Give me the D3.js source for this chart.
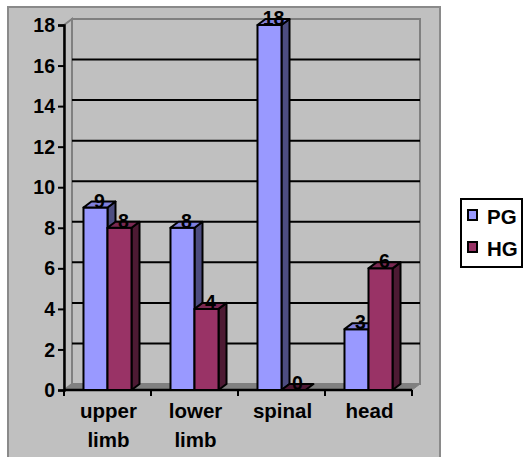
<!DOCTYPE html>
<html>
<head>
<meta charset="utf-8">
<script src="https://cdn.jsdelivr.net/npm/d3@7"></script>
<style>
  html, body { margin: 0; padding: 0; background: #ffffff; }
  svg { display: block; }
  text { font-family: "Liberation Sans", Arial, sans-serif; font-weight: bold; fill: #000; }
</style>
</head>
<body>
<svg id="chart" width="525" height="457"></svg>
<script>
// Injury sites and counts per group
const categories = [["upper", "limb"], ["lower", "limb"], ["spinal"], ["head"]];
const seriesNames = ["PG", "HG"];
const pgValues = [9, 8, 18, 3];
const hgValues = [8, 4, 0, 6];
const yTicks = [0, 2, 4, 6, 8, 10, 12, 14, 16, 18];

const palette = {
  PG: { front: "#9999FF", top: "#8080DD", side: "#4D4D80" },
  HG: { front: "#993366", top: "#7A2952", side: "#4D1A33" }
};

const svg = d3.select("#chart");

// Frame of the plotting region and the 3-D depth offset
const plotLeft = 64, plotRight = 412, plotBottom = 390, plotTop = 25;
const dx = 8, dy = -6;

const y = d3.scaleLinear().domain([0, 18]).range([plotBottom, plotTop]);
const x0 = d3.scaleBand().domain(d3.range(categories.length)).range([plotLeft, plotRight]).padding(0);
const groupW = x0.bandwidth() * 0.552;
const x1 = d3.scaleBand().domain(seriesNames)
  .range([(x0.bandwidth() - groupW) / 2, (x0.bandwidth() + groupW) / 2]).padding(0);

// Plot area background
svg.append("rect")
  .attr("x", 8).attr("y", 7).attr("width", 432).attr("height", 470)
  .attr("fill", "#C0C0C0").attr("stroke", "#8a8a8a").attr("stroke-width", 2);

// Side wall
svg.append("path")
  .attr("d", `M${plotLeft},${plotBottom}L${plotLeft},${plotTop}L${plotLeft + dx},${plotTop + dy}L${plotLeft + dx},${plotBottom + dy}Z`)
  .attr("fill", "#C0C0C0").attr("stroke", "#808080").attr("stroke-width", 2);

// Back wall
svg.append("rect")
  .attr("x", plotLeft + dx).attr("y", plotTop + dy)
  .attr("width", plotRight - plotLeft).attr("height", plotBottom - plotTop)
  .attr("fill", "#C0C0C0").attr("stroke", "#808080").attr("stroke-width", 2);

// Floor
svg.append("path")
  .attr("d", `M${plotLeft},${plotBottom}L${plotRight},${plotBottom}L${plotRight + dx},${plotBottom + dy}L${plotLeft + dx},${plotBottom + dy}Z`)
  .attr("fill", "#808080").attr("stroke", "#808080").attr("stroke-width", 1);

// Gridlines on the back wall
svg.append("g").selectAll("line")
  .data(yTicks.filter(t => t > 0 && t < 18))
  .join("line")
  .attr("x1", plotLeft + dx).attr("x2", plotRight + dx)
  .attr("y1", d => y(d) + dy).attr("y2", d => y(d) + dy)
  .attr("stroke", "#000").attr("stroke-width", 2);

// Y axis
const yAxis = svg.append("g")
  .attr("transform", `translate(${plotLeft},0)`)
  .call(d3.axisLeft(y).tickValues(yTicks).tickSize(6).tickPadding(3));
yAxis.select(".domain").attr("stroke", "#000").attr("stroke-width", 2.5);
yAxis.selectAll(".tick line").attr("stroke", "#000").attr("stroke-width", 2);
yAxis.selectAll(".tick text")
  .attr("font-size", 19.5).attr("font-family", "Liberation Sans, Arial, sans-serif")
  .attr("font-weight", "bold").attr("fill", "#000").attr("dy", "0.34em");

// X axis with boundary ticks
const xAxisG = svg.append("g");
xAxisG.append("line")
  .attr("x1", plotLeft).attr("x2", plotRight).attr("y1", plotBottom).attr("y2", plotBottom)
  .attr("stroke", "#000").attr("stroke-width", 2.5);
xAxisG.selectAll("line.tk")
  .data(d3.range(categories.length + 1))
  .join("line").attr("class", "tk")
  .attr("x1", i => plotLeft + i * x0.bandwidth()).attr("x2", i => plotLeft + i * x0.bandwidth())
  .attr("y1", plotBottom).attr("y2", plotBottom + 6)
  .attr("stroke", "#000").attr("stroke-width", 2);

// Category labels
const catLabels = svg.append("g");
categories.forEach((lines, i) => {
  const cx = x0(i) + x0.bandwidth() / 2 + 1;
  const t = catLabels.append("text")
    .attr("x", cx)
    .attr("y", 418)
    .attr("text-anchor", "middle")
    .attr("font-size", 20.5);
  lines.forEach((ln, k) => {
    t.append("tspan").attr("x", cx).attr("dy", k === 0 ? 0 : 29).text(ln);
  });
});

// 3-D bars
const bars = svg.append("g");
categories.forEach((c, i) => {
  const vals = { PG: pgValues[i], HG: hgValues[i] };
  seriesNames.forEach(s => {
    const v = vals[s];
    const x = x0(i) + x1(s);
    const w = x1.bandwidth();
    const yt = y(v), yb = y(0);
    const col = palette[s];
    const g = bars.append("g").attr("stroke", "#000").attr("stroke-width", 2).attr("stroke-linejoin", "round");
    if (v > 0) {
      g.append("path")
        .attr("d", `M${x + w},${yb}L${x + w},${yt}L${x + w + dx},${yt + dy}L${x + w + dx},${yb + dy}Z`)
        .attr("fill", col.side);
      g.append("rect").attr("x", x).attr("y", yt).attr("width", w).attr("height", yb - yt)
        .attr("fill", col.front);
    }
    g.append("path")
      .attr("d", `M${x},${yt}L${x + w},${yt}L${x + w + dx},${yt + dy}L${x + dx},${yt + dy}Z`)
      .attr("fill", v > 0 ? col.top : col.side);
    bars.append("text")
      .attr("x", x + w / 2 + dx / 2)
      .attr("y", yt)
      .attr("text-anchor", "middle")
      .attr("font-size", 19.5)
      .text(v);
  });
});

// Legend
const legend = svg.append("g");
legend.append("rect")
  .attr("x", 461).attr("y", 199).attr("width", 61).attr("height", 68)
  .attr("fill", "#fff").attr("stroke", "#000").attr("stroke-width", 2);
seriesNames.forEach((s, k) => {
  const yy = 210 + k * 32;
  legend.append("rect")
    .attr("x", 468).attr("y", yy).attr("width", 9).attr("height", 10)
    .attr("fill", palette[s].front).attr("stroke", "#000").attr("stroke-width", 2);
  legend.append("text")
    .attr("x", 487).attr("y", yy + 13.5)
    .attr("font-size", 20.5)
    .text(s);
});
</script>
</body>
</html>
